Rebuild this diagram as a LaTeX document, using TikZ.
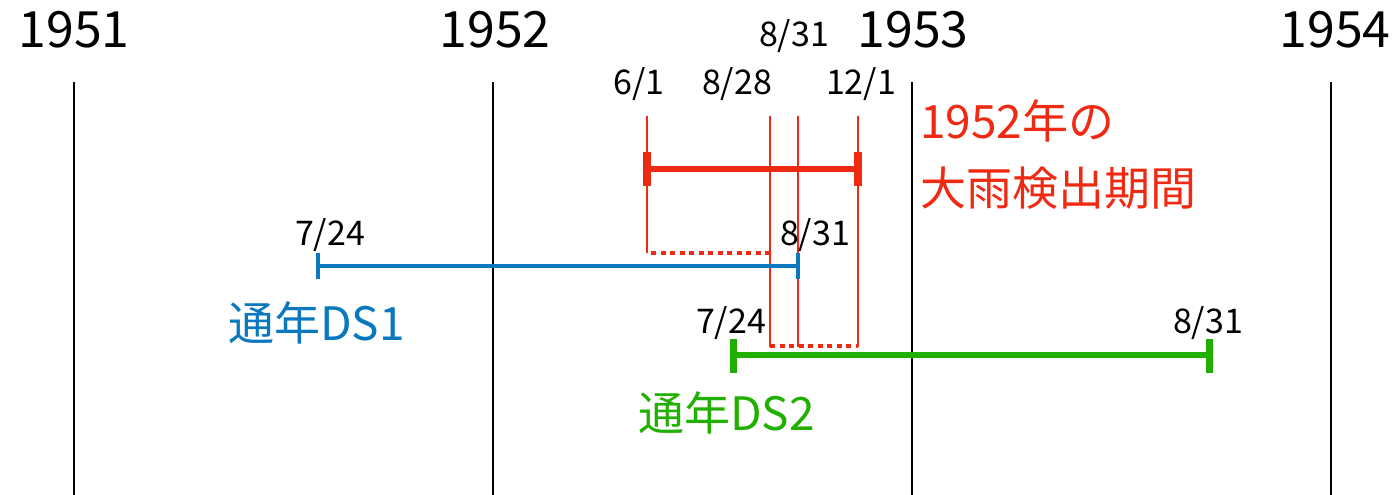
\documentclass[tikz,border=0pt]{standalone}
\usepackage{fontspec}
\setmainfont{Noto Sans CJK JP}
\definecolor{rd}{HTML}{EE2A12}
\definecolor{bl}{HTML}{0A78BE}
\definecolor{gr}{HTML}{22B000}
\begin{document}
\begin{tikzpicture}[x=1pt,y=-1pt,
  yearlbl/.style={font=\fontsize{50}{52}\selectfont, anchor=base, inner sep=0pt},
  datelbl/.style={font=\fontsize{34}{36}\selectfont, anchor=base, inner sep=0pt},
  biglbl/.style={font=\fontsize{46}{48}\selectfont, anchor=base west, inner sep=0pt},
  yearline/.style={draw=black, line width=2pt},
  redthin/.style={draw=rd, line width=2pt},
  reddot/.style={draw=rd, line width=4pt, dash pattern=on 5pt off 4.5pt},
  redbar/.style={draw=rd, line width=6pt},
  redtick/.style={draw=rd, line width=8pt},
  bluebar/.style={draw=bl, line width=4pt},
  bluetick/.style={draw=bl, line width=4pt},
  greenbar/.style={draw=gr, line width=6pt},
  greentick/.style={draw=gr, line width=7pt}]
\useasboundingbox (0,0) rectangle (1400,495);
% year lines
\foreach \n/\x in {a/74,b/493,c/912,d/1331}{
  \coordinate (y\n t) at (\x,82);
  \coordinate (y\n b) at (\x,495);
  \draw[yearline] (y\n t) -- (y\n b);
}
\node[yearlbl] (l1951) at (74,48) {1951};
\node[yearlbl] (l1952) at (495,48) {1952};
\node[yearlbl] (l1953) at (913,48) {1953};
\node[yearlbl] (l1954) at (1335,48) {1954};
% red verticals
\coordinate (r1t) at (647,116); \coordinate (r1b) at (647,253);
\coordinate (r2t) at (770,116); \coordinate (r2b) at (770,347);
\coordinate (r3t) at (798,116); \coordinate (r3b) at (798,347);
\coordinate (r4t) at (858,116); \coordinate (r4b) at (858,347);
\draw[redthin] (r1t) -- (r1b);
\draw[redthin] (r2t) -- (r2b);
\draw[redthin] (r3t) -- (r3b);
\draw[redthin] (r4t) -- (r4b);
\coordinate (d1a) at (651,253); \coordinate (d1b) at (770,253);
\coordinate (d2a) at (770,346); \coordinate (d2b) at (858,346);
\draw[reddot] (d1a) -- (d1b);
\draw[reddot] (d2a) -- (d2b);
% red bar
\coordinate (rb1) at (647,169); \coordinate (rb2) at (858,169);
\draw[redbar] (rb1) -- (rb2);
\coordinate (rt1a) at (647,152); \coordinate (rt1b) at (647,186);
\coordinate (rt2a) at (858,152); \coordinate (rt2b) at (858,186);
\draw[redtick] (rt1a) -- (rt1b);
\draw[redtick] (rt2a) -- (rt2b);
\node[datelbl] (d61) at (639,94) {6/1};
\node[datelbl] (d828) at (737,94) {8/28};
\node[datelbl] (d831t) at (794,47) {8/31};
\node[datelbl] (d121) at (861,94) {12/1};
\node[biglbl, text=rd] (rlab1) at (920,138) {1952年の};
\node[biglbl, text=rd] (rlab2) at (920,205) {大雨検出期間};
% blue
\coordinate (b1) at (318,266); \coordinate (b2) at (798,266);
\draw[bluebar] (b1) -- (b2);
\coordinate (bt1a) at (318,253); \coordinate (bt1b) at (318,279);
\coordinate (bt2a) at (798,253); \coordinate (bt2b) at (798,279);
\draw[bluetick] (bt1a) -- (bt1b);
\draw[bluetick] (bt2a) -- (bt2b);
\node[datelbl] (b724) at (330,245) {7/24};
\node[datelbl] (b831) at (815,245) {8/31};
\node[biglbl, text=bl] (blab) at (228,340) {通年DS1};
% green
\coordinate (g1) at (733,355); \coordinate (g2) at (1209,355);
\draw[greenbar] (g1) -- (g2);
\coordinate (gt1a) at (733,339); \coordinate (gt1b) at (733,373);
\coordinate (gt2a) at (1209,339); \coordinate (gt2b) at (1209,373);
\draw[greentick] (gt1a) -- (gt1b);
\draw[greentick] (gt2a) -- (gt2b);
\node[datelbl] (g724) at (731,333) {7/24};
\node[datelbl] (g831) at (1208,333) {8/31};
\node[biglbl, text=gr] (glab) at (638,430) {通年DS2};
\end{tikzpicture}
\end{document}
